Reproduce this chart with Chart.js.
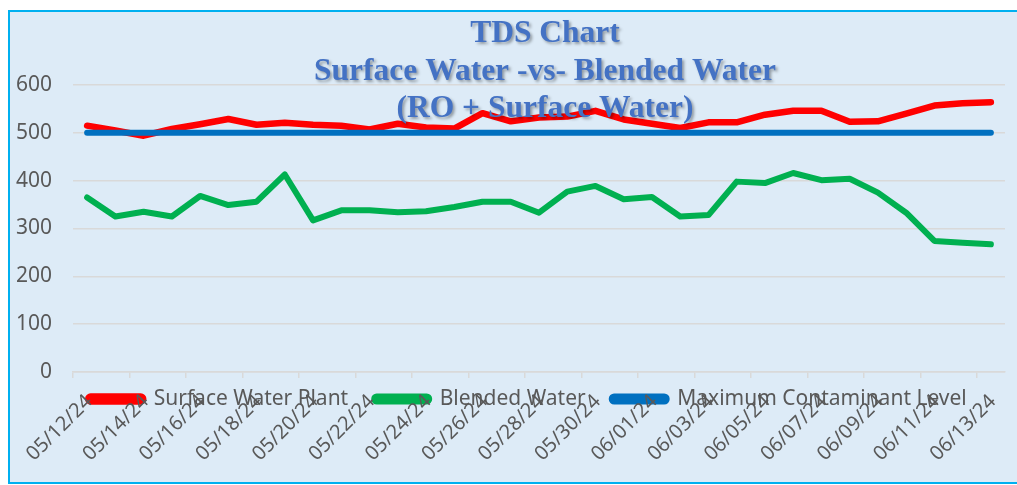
<!DOCTYPE html>
<html>
<head>
<meta charset="utf-8">
<script src="https://cdn.jsdelivr.net/npm/chart.js@4.4.1/dist/chart.umd.min.js"></script>
<style>
  html, body { margin: 0; padding: 0; background: #ffffff; }
  #wrap {
    position: absolute; left: 8px; top: 10px;
    width: 1010px; height: 470px;
    border: 2px solid #00B0F0;
    background: #DDEBF7;
  }
  #tds { display: block; }
</style>
</head>
<body>
<div id="wrap"><canvas id="tds" width="1010" height="470"></canvas></div>
<script>
const dates = [
  '05/12/24', '05/13/24', '05/14/24', '05/15/24', '05/16/24', '05/17/24', '05/18/24',
  '05/19/24', '05/20/24', '05/21/24', '05/22/24', '05/23/24', '05/24/24', '05/25/24',
  '05/26/24', '05/27/24', '05/28/24', '05/29/24', '05/30/24', '05/31/24', '06/01/24',
  '06/02/24', '06/03/24', '06/04/24', '06/05/24', '06/06/24', '06/07/24', '06/08/24',
  '06/09/24', '06/10/24', '06/11/24', '06/12/24', '06/13/24'
];
const surfaceWater = [
  515, 505, 494, 508, 518, 529, 517, 521, 517, 515, 507, 519, 511, 509, 541, 524, 532,
  534, 546, 528, 519, 510, 522, 522, 538, 546, 546, 523, 524, 540, 557, 562, 564
];
const blendedWater = [
  365, 325, 335, 325, 368, 349, 356, 413, 317, 338, 338, 334, 336, 345, 356, 356, 333,
  377, 389, 361, 366, 325, 328, 398, 395, 416, 401, 404, 375, 333, 274, 270, 267
];
const mcl = [
  500, 500, 500, 500, 500, 500, 500, 500, 500, 500, 500, 500, 500, 500, 500, 500, 500,
  500, 500, 500, 500, 500, 500, 500, 500, 500, 500, 500, 500, 500, 500, 500, 500
];
const yTicks = [0, 100, 200, 300, 400, 500, 600];
const titleLines = ['TDS Chart', 'Surface Water -vs- Blended Water', '(RO + Surface Water)'];

const labelFont = { family: 'Noto Sans', size: 21 };
const grey = '#595959';

// title sits over the plot like Excel does, so draw it ourselves
const titlePlugin = {
  id: 'tdsTitle',
  afterDraw(chart) {
    const c = chart.ctx;
    c.save();
    c.font = 'bold 31.5px "Liberation Serif"';
    c.fillStyle = '#4472C4';
    c.textAlign = 'center';
    c.textBaseline = 'middle';
    c.shadowColor = 'rgba(0,0,0,0.35)';
    c.shadowBlur = 3;
    c.shadowOffsetX = 2;
    c.shadowOffsetY = 2;
    titleLines.forEach((t, i) => c.fillText(t, 535, 22 + i * 37.5));
    c.restore();
  }
};

// legend overlaps the date labels in the original
const legendShift = {
  id: 'legendShift',
  beforeLayout(chart) {
    // no extra room for the first rotated date
    const xs = chart.scales.x;
    if (xs && !xs._noPad) {
      xs._noPad = true;
      xs._calculatePadding = function () {
        this.paddingLeft = 0;
        this.paddingRight = 0;
      };
    }
  },
  afterLayout(chart) {
    const lg = chart.legend;
    const h = lg.bottom - lg.top;
    lg.top = 379 - h / 2;
    lg.bottom = lg.top + h;
    lg.left += 17;
    lg.right += 17;
    // let the rotated dates run down to the bottom edge
    chart.scales.x.bottom = chart.height;
  }
};

new Chart(document.getElementById('tds'), {
  type: 'line',
  data: {
    labels: dates,
    datasets: [
      {
        label: 'Surface Water Plant',
        data: surfaceWater,
        borderColor: '#FF0000',
        backgroundColor: '#FF0000',
        borderWidth: 6.5,
        order: 1
      },
      {
        label: 'Blended Water',
        data: blendedWater,
        borderColor: '#00B050',
        backgroundColor: '#00B050',
        borderWidth: 6,
        order: 2
      },
      {
        label: 'Maximum Contaminant Level',
        data: mcl,
        borderColor: '#0070C0',
        backgroundColor: '#0070C0',
        borderWidth: 6,
        order: 0
      }
    ]
  },
  options: {
    responsive: false,
    animation: false,
    layout: { padding: { left: 6, right: 15, top: 73, bottom: 0 } },
    elements: {
      point: { radius: 0 },
      line: { tension: 0, borderCapStyle: 'round', borderJoinStyle: 'round' }
    },
    scales: {
      x: {
        offset: true,
        grid: {
          offset: true,
          drawOnChartArea: false,
          drawTicks: true,
          tickLength: 6,
          lineWidth: 1.5,
          color: (ctx) => (ctx.index % 2 === 0 ? '#D9D9D9' : 'rgba(0,0,0,0)')
        },
        border: { display: true, color: '#D9D9D9', width: 1.5 },
        ticks: {
          autoSkip: false,
          minRotation: 45,
          maxRotation: 45,
          padding: 12,
          labelOffset: 2,
          color: grey,
          font: { family: 'Noto Sans', size: 20 },
          callback: function (v, i) { return i % 2 === 0 ? dates[i] : ''; }
        },
        afterFit(scale) {
          const lgH = scale.chart.legend ? scale.chart.legend.height : 0;
          scale.height = 110 - lgH;
          scale.paddingLeft = 0;
          scale.paddingRight = 0;
        }
      },
      y: {
        min: 0,
        max: 600,
        afterBuildTicks(scale) { scale.ticks = yTicks.map(v => ({ value: v })); },
        afterFit(scale) { scale.width = 57; },
        grid: { color: '#D9D9D9', lineWidth: 1.5, drawTicks: false },
        border: { display: false },
        ticks: { padding: 21, color: grey, font: labelFont }
      }
    },
    plugins: {
      title: { display: false },
      tooltip: { enabled: false },
      legend: {
        position: 'bottom',
        labels: {
          boxWidth: 55,
          boxHeight: 5,
          useBorderRadius: true,
          borderRadius: 2.5,
          padding: 26,
          color: grey,
          font: labelFont,
          sort: (a, b) => a.datasetIndex - b.datasetIndex
        }
      }
    }
  },
  plugins: [titlePlugin, legendShift]
});
</script>
</body>
</html>
